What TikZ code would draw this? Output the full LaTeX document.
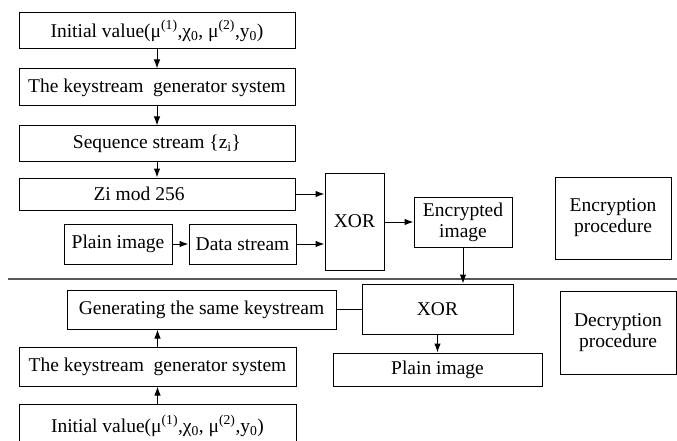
\documentclass[tikz,border=0pt]{standalone}
\usepackage{fontspec}
\setmainfont{Liberation Serif}
\usepackage{tikz}
\usetikzlibrary{arrows.meta}

\begin{document}
\begin{tikzpicture}[x=1pt, y=-1pt, box/.style={draw, rectangle, line width=1pt, align=center, inner sep=0pt, font=\fontsize{19.5}{21}\selectfont}, n/.style={-{Latex[length=9pt, width=6.5pt]}, line width=1pt}, sep/.style={line width=1.1pt, draw=black!65}]
            \useasboundingbox (0,0) rectangle (677,441);
            % encryption nodes
            \node[box, minimum width=276pt, minimum height=36pt] (init1) at (157,31) {Initial value(μ\textsuperscript{(1)},χ\textsubscript{0}, μ\textsuperscript{(2)},y\textsubscript{0})};
            \node[box, minimum width=276pt, minimum height=37pt] (gen1) at (157,87.5) {The keystream\ \ generator system};
            \node[box, minimum width=276pt, minimum height=35pt] (seq) at (157,143.5) {Sequence stream \{z\textsubscript{i}\}};
            \node[box, minimum width=276pt, minimum height=32pt] (zi) at (157,194) {Zi mod 256\hspace{36pt}};
            \node[box, minimum width=108pt, minimum height=40pt] (plain1) at (118,244) {Plain image};
            \node[box, minimum width=107pt, minimum height=40pt] (data) at (242.5,244) {Data stream};
            \node[box, minimum width=59pt, minimum height=97pt] (xor1) at (354.5,221.5) {XOR};
            \node[box, minimum width=98pt, minimum height=50pt] (enc) at (463,222) {Encrypted\\image};
            \node[box, minimum width=116pt, minimum height=82pt] (encproc) at (613,218) {Encryption\\procedure};
            % separator
            \coordinate (l1) at (8,279);
            \coordinate (l2) at (677,279);
            \draw[sep] (l1) -- (l2);
            % decryption nodes
            \node[box, minimum width=269pt, minimum height=39pt] (same) at (201.5,309.5) {Generating the same keystream};
            \node[box, minimum width=151pt, minimum height=50pt] (xor2) at (437.5,309) {XOR};
            \node[box, minimum width=209pt, minimum height=33pt] (plain2) at (437.5,369.5) {Plain image};
            \node[box, minimum width=116pt, minimum height=83pt] (decproc) at (618,332.5) {Decryption\\procedure};
            \node[box, minimum width=277pt, minimum height=39pt] (gen2) at (157.5,366.5) {The keystream\ \ generator system};
            \node[box, minimum width=277pt, minimum height=44pt] (init2) at (157.5,426) {Initial value(μ\textsuperscript{(1)},χ\textsubscript{0}, μ\textsuperscript{(2)},y\textsubscript{0})};
            % edges
            \draw [n] (init1) -- (gen1);
            \draw [n] (gen1) -- (seq);
            \draw [n] (seq) -- (zi);
            \draw [n] (zi.east) -- (zi.east -| xor1.west);
            \draw [n] (plain1) -- (data);
            \draw [n] (data.east) -- (data.east -| xor1.west);
            \draw [n] (xor1.east |- enc.west) -- (enc.west);
            \draw [n] (enc.south) -- (enc.south |- xor2.north);
            \draw [n] (xor2) -- (plain2);
            \draw [line width=1pt] (same.east) -- (same.east -| xor2.west);
            \draw [n] (gen2.north) -- (gen2.north |- same.south);
            \draw [n] (init2) -- (gen2);
        \end{tikzpicture}
\end{document}
